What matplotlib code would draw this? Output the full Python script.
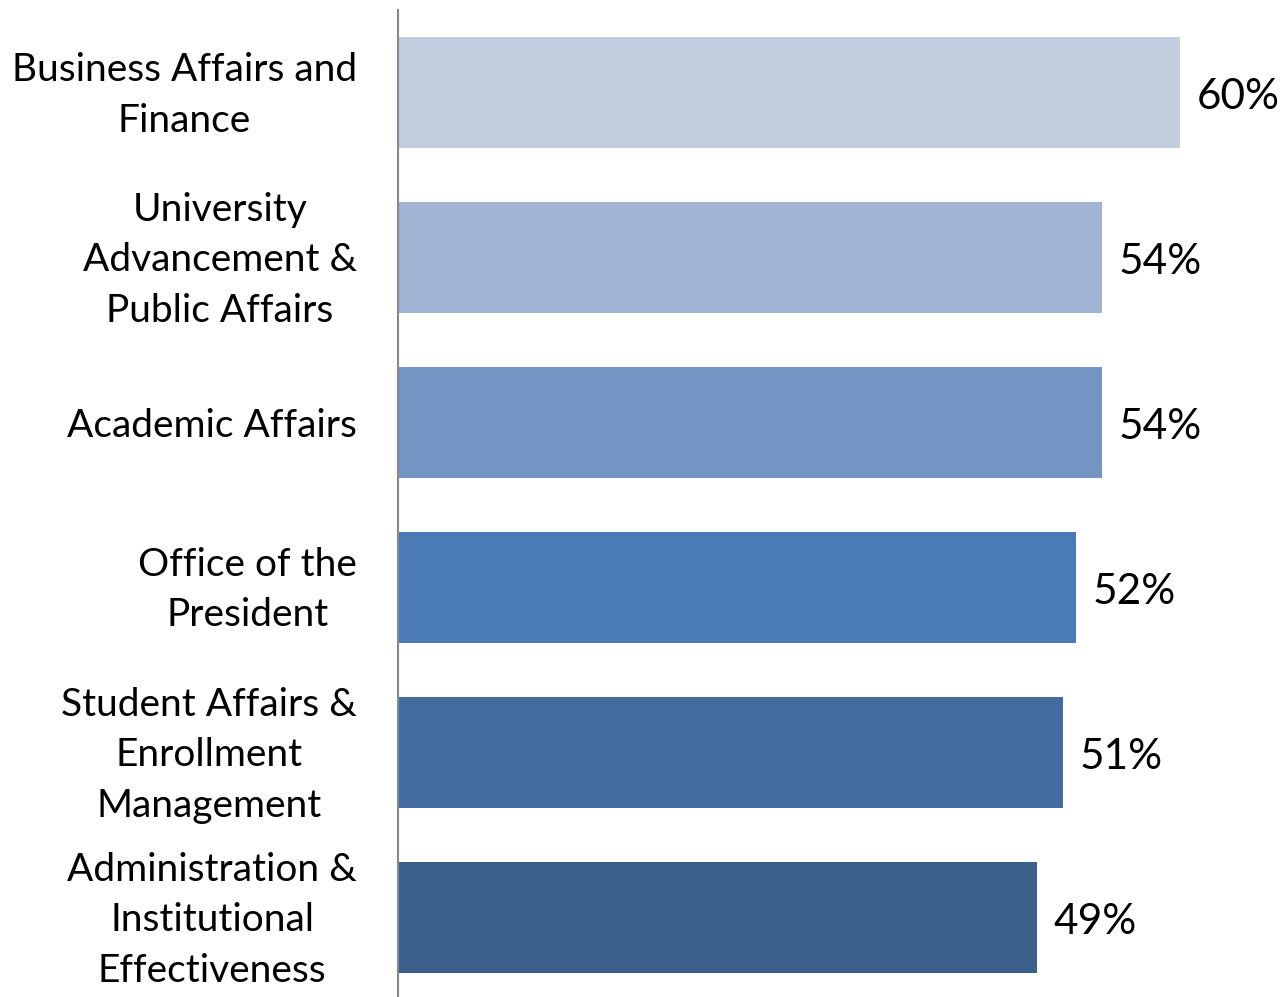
import matplotlib.pyplot as plt
from matplotlib.transforms import ScaledTranslation

# divisions, share (%) and bar colours, top to bottom
divisions = [
    'Business Affairs and\nFinance',
    'University\nAdvancement &\nPublic Affairs',
    'Academic Affairs',
    'Office of the\nPresident',
    'Student Affairs &\nEnrollment\nManagement',
    'Administration &\nInstitutional\nEffectiveness',
]
shares = [60, 54, 54, 52, 51, 49]
colors = ['#C3CDE0', '#A1B4D4', '#7495C4', '#4A7BB4', '#426C9F', '#3A5F8B']

plt.rcParams['font.family'] = ['Lato', 'DejaVu Sans']

W, H = 1282, 997
fig = plt.figure(figsize=(W / 100, H / 100), dpi=100)
# axes placed in pixel terms: left edge at the category axis line
left, right, top, bottom = 398, 1282, 10, 1000
ax = fig.add_axes([left / W, 1 - bottom / H, (right - left) / W, (bottom - top) / H])

ypos = list(range(len(divisions)))
ax.barh(ypos, shares, height=0.673, color=colors, edgecolor='none')
ax.set_ylim(len(divisions) - 0.5, -0.5)
ax.set_xlim(0, (right - left) / (782 / 60))

for y, v in zip(ypos, shares):
    ax.text(v + 1.3, y + 0.03, f'{v}%', va='center', ha='left', fontsize=30.5, clip_on=False)

ax.set_yticks(ypos)
ax.set_yticklabels(divisions, fontsize=28, multialignment='center', linespacing=1.5)
ax.tick_params(axis='y', length=0, pad=29.5)
ax.set_xticks([])
# wrapped labels sit a touch low; lift them so each block centres on its bar
shift = ScaledTranslation(0, 0.08, fig.dpi_scale_trans)
for lab in ax.get_yticklabels():
    if '\n' in lab.get_text():
        lab.set_transform(lab.get_transform() + shift)

for s in ['top', 'right', 'bottom']:
    ax.spines[s].set_visible(False)
ax.spines['left'].set_color('#888888')
ax.spines['left'].set_linewidth(1.5)

fig.savefig('out.png', dpi=100)
